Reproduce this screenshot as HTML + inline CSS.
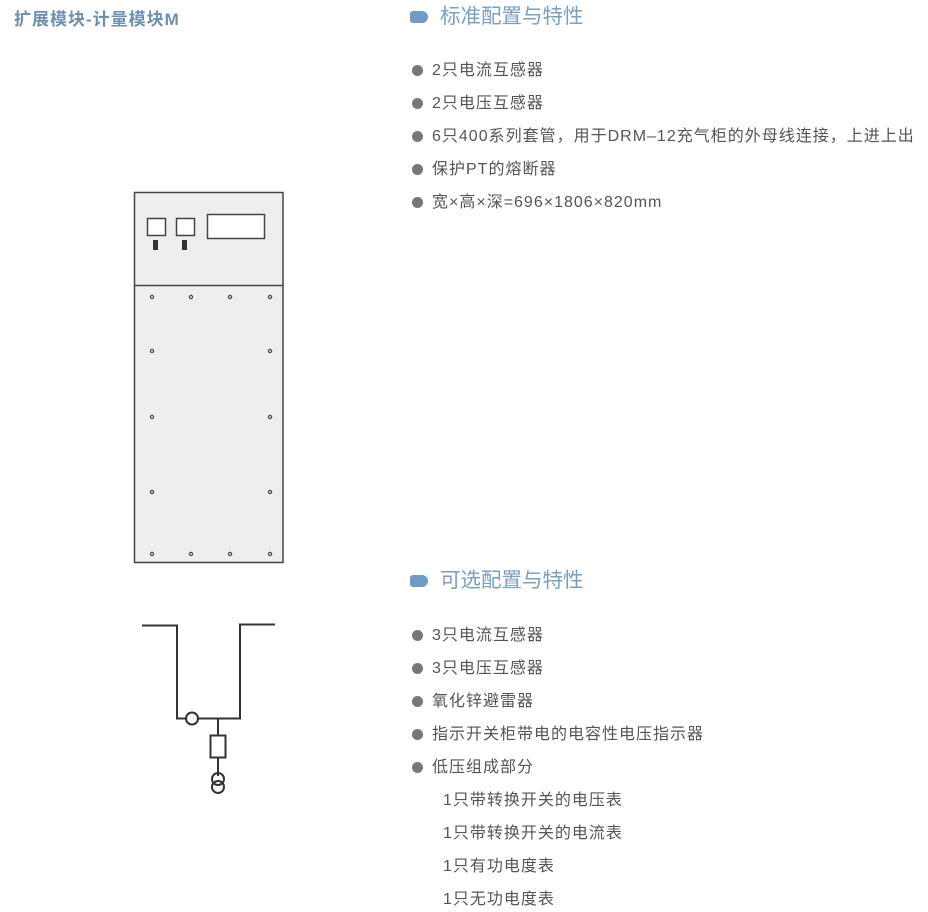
<!DOCTYPE html>
<html><head><meta charset="utf-8"><style>
body{margin:0;width:928px;height:912px;background:#fff;position:relative;overflow:hidden;font-family:"Liberation Sans","Noto Sans CJK SC",sans-serif}
.t{position:absolute;white-space:nowrap}
.title{left:14px;top:5px;font-size:17px;letter-spacing:1px;font-weight:bold;color:#6f8fae}
.h{left:440px;font-size:20.5px;color:#7aa0c0;line-height:24px}
.ic{position:absolute;left:410px;width:18px;height:12px;background:#6f9cc2;border-radius:3px 6px 6px 3px}
.i{left:432px;font-size:16px;letter-spacing:1px;color:#555;line-height:20px}
.b{position:absolute;left:412px;width:11px;height:11px;border-radius:50%;background:#777}
.s{left:443px;font-size:16px;letter-spacing:1px;color:#555;line-height:20px}
</style></head><body>
<div class="t title">扩展模块-计量模块M</div>

<div class="ic" style="top:11px"></div>
<div class="t h" style="top:5px">标准配置与特性</div>
<div class="b" style="top:65px"></div><div class="t i" style="top:61px">2只电流互感器</div>
<div class="b" style="top:98px"></div><div class="t i" style="top:94px">2只电压互感器</div>
<div class="b" style="top:131px"></div><div class="t i" style="top:127px">6只400系列套管，用于DRM–12充气柜的外母线连接，上进上出</div>
<div class="b" style="top:164px"></div><div class="t i" style="top:160px">保护PT的熔断器</div>
<div class="b" style="top:197px"></div><div class="t i" style="top:193px">宽×高×深=696×1806×820mm</div>

<div class="ic" style="top:575px"></div>
<div class="t h" style="top:569px">可选配置与特性</div>
<div class="b" style="top:630px"></div><div class="t i" style="top:626px">3只电流互感器</div>
<div class="b" style="top:663px"></div><div class="t i" style="top:659px">3只电压互感器</div>
<div class="b" style="top:696px"></div><div class="t i" style="top:692px">氧化锌避雷器</div>
<div class="b" style="top:729px"></div><div class="t i" style="top:725px">指示开关柜带电的电容性电压指示器</div>
<div class="b" style="top:762px"></div><div class="t i" style="top:758px">低压组成部分</div>
<div class="t s" style="top:791px">1只带转换开关的电压表</div>
<div class="t s" style="top:824px">1只带转换开关的电流表</div>
<div class="t s" style="top:857px">1只有功电度表</div>
<div class="t s" style="top:890px">1只无功电度表</div>

<svg width="928" height="912" style="position:absolute;left:0;top:0" xmlns="http://www.w3.org/2000/svg">
<g stroke="#444" fill="none" stroke-width="1.5">
<rect x="134.5" y="192.5" width="148.5" height="370" fill="#eeeeee"/>
<line x1="134" y1="285.5" x2="283" y2="285.5"/>
<rect x="147.5" y="218.5" width="18" height="17" fill="#fff"/>
<rect x="176.5" y="218.5" width="18" height="17" fill="#fff"/>
<rect x="207.5" y="214.5" width="57" height="24" fill="#fff"/>
</g>
<rect x="153" y="240" width="5" height="10" fill="#333"/>
<rect x="182" y="240" width="5" height="10" fill="#333"/>
<g stroke="#444" fill="none" stroke-width="1.2">
<circle cx="152" cy="297" r="1.6"/><circle cx="191" cy="297" r="1.6"/><circle cx="230" cy="297" r="1.6"/><circle cx="270" cy="297" r="1.6"/>
<circle cx="152" cy="351" r="1.6"/><circle cx="270" cy="351" r="1.6"/>
<circle cx="152" cy="417" r="1.6"/><circle cx="270" cy="417" r="1.6"/>
<circle cx="152" cy="492" r="1.6"/><circle cx="270" cy="492" r="1.6"/>
<circle cx="152" cy="554" r="1.6"/><circle cx="191" cy="554" r="1.6"/><circle cx="230" cy="554" r="1.6"/><circle cx="270" cy="554" r="1.6"/>
</g>
<g stroke="#333" fill="none" stroke-width="2">
<polyline points="142,625.5 177,625.5 177,718.5 240,718.5 240,624.5 275,624.5"/>
<circle cx="192" cy="718.5" r="6" fill="#fff"/>
<line x1="218" y1="718" x2="218" y2="776"/>
<rect x="210.5" y="735.5" width="15" height="22" fill="#fff"/>
<circle cx="218" cy="779" r="6"/>
<circle cx="218" cy="787" r="6"/>
</g>
</svg>
</body></html>
